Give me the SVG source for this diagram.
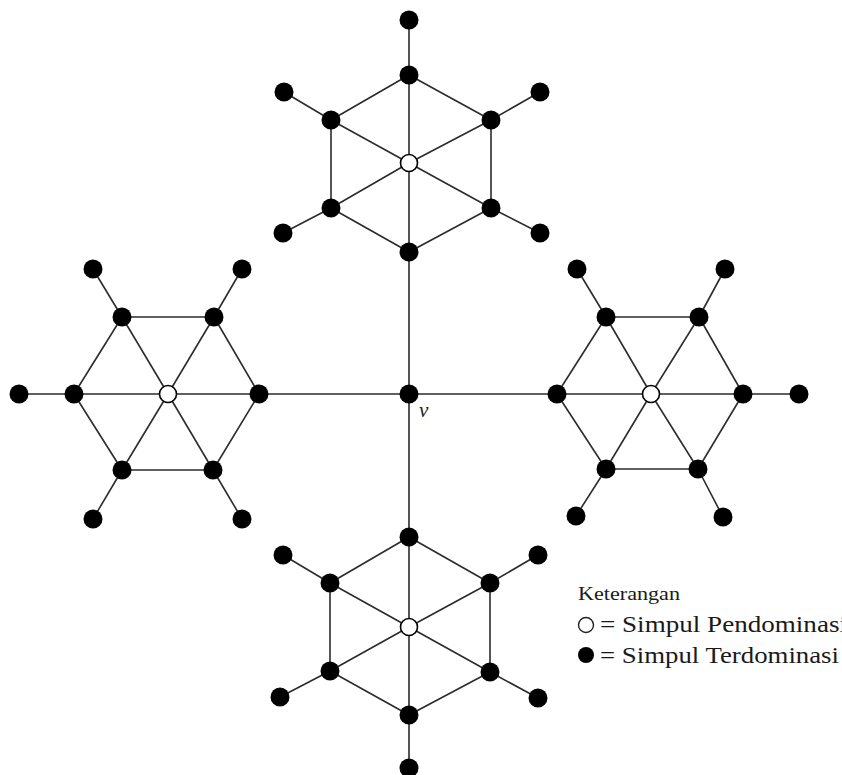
<svg xmlns="http://www.w3.org/2000/svg" width="842" height="775" viewBox="0 0 842 775">
<style>
.edge line{stroke:#2b2b2b;stroke-width:1.6;fill:none}
.dom{fill:#000}
.pend{fill:#fff;stroke:#000;stroke-width:1.6}
.lbl{font-family:"Liberation Serif","DejaVu Serif",serif;fill:#1a1a1a}
</style>
<rect width="842" height="775" fill="#fff"/>
<g id="connectors" class="edge">
<!-- top hexagon -->
<line x1="409" y1="75" x2="491" y2="120"/><line x1="491" y1="120" x2="491" y2="208"/><line x1="491" y1="208" x2="409" y2="252"/><line x1="409" y1="252" x2="331" y2="208"/><line x1="331" y1="208" x2="331" y2="120"/><line x1="331" y1="120" x2="409" y2="75"/>
<line x1="409" y1="163" x2="409" y2="75"/><line x1="409" y1="163" x2="491" y2="120"/><line x1="409" y1="163" x2="491" y2="208"/><line x1="409" y1="163" x2="409" y2="252"/><line x1="409" y1="163" x2="331" y2="208"/><line x1="409" y1="163" x2="331" y2="120"/>
<line x1="409" y1="75" x2="409" y2="20"/><line x1="331" y1="120" x2="284" y2="92"/><line x1="491" y1="120" x2="540" y2="92"/><line x1="331" y1="208" x2="283" y2="233"/><line x1="491" y1="208" x2="540" y2="233"/>
<line x1="409" y1="252" x2="409" y2="394"/>
<!-- bottom hexagon -->
<line x1="409" y1="537" x2="490" y2="583"/><line x1="490" y1="583" x2="490" y2="672"/><line x1="490" y1="672" x2="409" y2="715"/><line x1="409" y1="715" x2="330" y2="671"/><line x1="330" y1="671" x2="330" y2="583"/><line x1="330" y1="583" x2="409" y2="537"/>
<line x1="409" y1="627" x2="409" y2="537"/><line x1="409" y1="627" x2="490" y2="583"/><line x1="409" y1="627" x2="490" y2="672"/><line x1="409" y1="627" x2="409" y2="715"/><line x1="409" y1="627" x2="330" y2="671"/><line x1="409" y1="627" x2="330" y2="583"/>
<line x1="409" y1="715" x2="409" y2="768"/><line x1="330" y1="583" x2="283" y2="555"/><line x1="490" y1="583" x2="538" y2="555"/><line x1="330" y1="671" x2="280" y2="697"/><line x1="490" y1="672" x2="538" y2="698"/>
<line x1="409" y1="394" x2="409" y2="537"/>
<!-- left hexagon -->
<line x1="74" y1="394" x2="122" y2="317"/><line x1="122" y1="317" x2="214" y2="317"/><line x1="214" y1="317" x2="259" y2="394"/><line x1="259" y1="394" x2="213" y2="470"/><line x1="213" y1="470" x2="122" y2="470"/><line x1="122" y1="470" x2="74" y2="394"/>
<line x1="168" y1="394" x2="74" y2="394"/><line x1="168" y1="394" x2="122" y2="317"/><line x1="168" y1="394" x2="214" y2="317"/><line x1="168" y1="394" x2="259" y2="394"/><line x1="168" y1="394" x2="213" y2="470"/><line x1="168" y1="394" x2="122" y2="470"/>
<line x1="74" y1="394" x2="19" y2="394"/><line x1="122" y1="317" x2="93" y2="269"/><line x1="214" y1="317" x2="242" y2="269"/><line x1="122" y1="470" x2="93" y2="519"/><line x1="213" y1="470" x2="242" y2="519"/>
<line x1="259" y1="394" x2="409" y2="394"/>
<!-- right hexagon -->
<line x1="557" y1="394" x2="606" y2="317"/><line x1="606" y1="317" x2="699" y2="317"/><line x1="699" y1="317" x2="743" y2="394"/><line x1="743" y1="394" x2="698" y2="469"/><line x1="698" y1="469" x2="606" y2="469"/><line x1="606" y1="469" x2="557" y2="394"/>
<line x1="651" y1="394" x2="557" y2="394"/><line x1="651" y1="394" x2="606" y2="317"/><line x1="651" y1="394" x2="699" y2="317"/><line x1="651" y1="394" x2="743" y2="394"/><line x1="651" y1="394" x2="698" y2="469"/><line x1="651" y1="394" x2="606" y2="469"/>
<line x1="743" y1="394" x2="799" y2="394"/><line x1="606" y1="317" x2="577" y2="269"/><line x1="699" y1="317" x2="725" y2="269"/><line x1="606" y1="469" x2="576" y2="516"/><line x1="698" y1="469" x2="723" y2="517"/>
<line x1="409" y1="394" x2="557" y2="394"/>
</g>
<!-- center vertex v -->
<g id="v"><circle class="dom" cx="409" cy="394" r="9.5"/></g>
<text class="lbl" x="419" y="417" font-size="21" font-style="italic">v</text>
<!-- top hexagon nodes -->
<g id="top-center"><circle class="pend" cx="409" cy="163" r="8.5"/></g>
<g id="top-n"><circle class="dom" cx="409" cy="75" r="9.5"/></g>
<g id="top-ne"><circle class="dom" cx="491" cy="120" r="9.5"/></g>
<g id="top-se"><circle class="dom" cx="491" cy="208" r="9.5"/></g>
<g id="top-s"><circle class="dom" cx="409" cy="252" r="9.5"/></g>
<g id="top-sw"><circle class="dom" cx="331" cy="208" r="9.5"/></g>
<g id="top-nw"><circle class="dom" cx="331" cy="120" r="9.5"/></g>
<g id="top-n-leaf"><circle class="dom" cx="409" cy="20" r="9.5"/></g>
<g id="top-nw-leaf"><circle class="dom" cx="284" cy="92" r="9.5"/></g>
<g id="top-ne-leaf"><circle class="dom" cx="540" cy="92" r="9.5"/></g>
<g id="top-sw-leaf"><circle class="dom" cx="283" cy="233" r="9.5"/></g>
<g id="top-se-leaf"><circle class="dom" cx="540" cy="233" r="9.5"/></g>
<!-- bottom hexagon nodes -->
<g id="bot-center"><circle class="pend" cx="409" cy="627" r="8.5"/></g>
<g id="bot-n"><circle class="dom" cx="409" cy="537" r="9.5"/></g>
<g id="bot-ne"><circle class="dom" cx="490" cy="583" r="9.5"/></g>
<g id="bot-se"><circle class="dom" cx="490" cy="672" r="9.5"/></g>
<g id="bot-s"><circle class="dom" cx="409" cy="715" r="9.5"/></g>
<g id="bot-sw"><circle class="dom" cx="330" cy="671" r="9.5"/></g>
<g id="bot-nw"><circle class="dom" cx="330" cy="583" r="9.5"/></g>
<g id="bot-s-leaf"><circle class="dom" cx="409" cy="768" r="9.5"/></g>
<g id="bot-nw-leaf"><circle class="dom" cx="283" cy="555" r="9.5"/></g>
<g id="bot-ne-leaf"><circle class="dom" cx="538" cy="555" r="9.5"/></g>
<g id="bot-sw-leaf"><circle class="dom" cx="280" cy="697" r="9.5"/></g>
<g id="bot-se-leaf"><circle class="dom" cx="538" cy="698" r="9.5"/></g>
<!-- left hexagon nodes -->
<g id="left-center"><circle class="pend" cx="168" cy="394" r="8.5"/></g>
<g id="left-w"><circle class="dom" cx="74" cy="394" r="9.5"/></g>
<g id="left-nw"><circle class="dom" cx="122" cy="317" r="9.5"/></g>
<g id="left-ne"><circle class="dom" cx="214" cy="317" r="9.5"/></g>
<g id="left-e"><circle class="dom" cx="259" cy="394" r="9.5"/></g>
<g id="left-se"><circle class="dom" cx="213" cy="470" r="9.5"/></g>
<g id="left-sw"><circle class="dom" cx="122" cy="470" r="9.5"/></g>
<g id="left-w-leaf"><circle class="dom" cx="19" cy="394" r="9.5"/></g>
<g id="left-nw-leaf"><circle class="dom" cx="93" cy="269" r="9.5"/></g>
<g id="left-ne-leaf"><circle class="dom" cx="242" cy="269" r="9.5"/></g>
<g id="left-sw-leaf"><circle class="dom" cx="93" cy="519" r="9.5"/></g>
<g id="left-se-leaf"><circle class="dom" cx="242" cy="519" r="9.5"/></g>
<!-- right hexagon nodes -->
<g id="right-center"><circle class="pend" cx="651" cy="394" r="8.5"/></g>
<g id="right-w"><circle class="dom" cx="557" cy="394" r="9.5"/></g>
<g id="right-nw"><circle class="dom" cx="606" cy="317" r="9.5"/></g>
<g id="right-ne"><circle class="dom" cx="699" cy="317" r="9.5"/></g>
<g id="right-e"><circle class="dom" cx="743" cy="394" r="9.5"/></g>
<g id="right-se"><circle class="dom" cx="698" cy="469" r="9.5"/></g>
<g id="right-sw"><circle class="dom" cx="606" cy="469" r="9.5"/></g>
<g id="right-e-leaf"><circle class="dom" cx="799" cy="394" r="9.5"/></g>
<g id="right-nw-leaf"><circle class="dom" cx="577" cy="269" r="9.5"/></g>
<g id="right-ne-leaf"><circle class="dom" cx="725" cy="269" r="9.5"/></g>
<g id="right-sw-leaf"><circle class="dom" cx="576" cy="516" r="9.5"/></g>
<g id="right-se-leaf"><circle class="dom" cx="723" cy="517" r="9.5"/></g>
<!-- legend -->
<g id="legend">
<text class="lbl" x="578" y="600" font-size="18" textLength="102" lengthAdjust="spacingAndGlyphs">Keterangan</text>
<circle cx="586" cy="625" r="7.5" fill="#fff" stroke="#222" stroke-width="1.4"/>
<text class="lbl" x="600" y="632" font-size="23" textLength="247" lengthAdjust="spacingAndGlyphs">= Simpul Pendominasi</text>
<circle cx="586" cy="655" r="8" fill="#000"/>
<text class="lbl" x="600" y="663" font-size="23" textLength="239" lengthAdjust="spacingAndGlyphs">= Simpul Terdominasi</text>
</g>
</svg>
